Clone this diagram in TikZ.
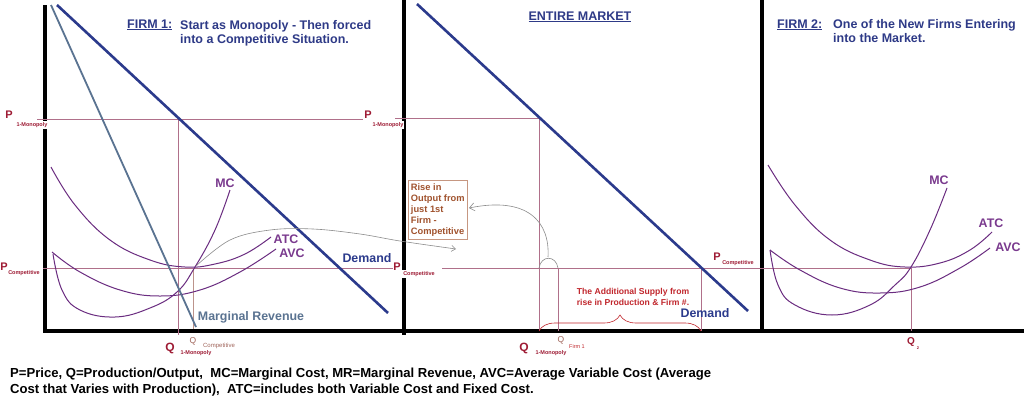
\documentclass[tikz,border=0pt]{standalone}
\usepackage{fontspec}
\setmainfont{Liberation Sans}
\usetikzlibrary{decorations.pathreplacing,arrows.meta}
\definecolor{navy}{HTML}{2B3A8C}
\definecolor{titleblue}{HTML}{2E3A87}
\definecolor{plum}{HTML}{6A2C80}
\definecolor{plumtxt}{HTML}{7A3A8E}
\definecolor{mrgray}{HTML}{5A7391}
\definecolor{dred}{HTML}{9E1B34}
\definecolor{pline}{HTML}{B0708A}
\definecolor{boxbrown}{HTML}{A0522D}
\definecolor{qbrown}{HTML}{A0645A}
\definecolor{supred}{HTML}{C1272D}
\definecolor{arrgray}{HTML}{8C8C8C}
\tikzset{
  axisline/.style={line width=3.5pt, black},
  dem/.style={navy, line width=2.6pt},
  mrline/.style={mrgray, line width=1.8pt},
  cost/.style={plum, line width=1pt},
  guide/.style={pline, line width=0.7pt},
  lbl/.style={font=\bfseries\fontsize{12.4}{14}\selectfont, inner sep=0},
  ttl/.style={font=\bfseries\fontsize{12.5}{14}\selectfont, inner sep=0, text=titleblue, align=left},
  bigP/.style={font=\bfseries\fontsize{11}{13}\selectfont, inner sep=0, text=dred},
  subl/.style={font=\bfseries\fontsize{5.5}{6}\selectfont, inner sep=0, text=dred},
}
\begin{document}
\begin{tikzpicture}[x=1pt,y=-1pt]
\useasboundingbox (0,0) rectangle (1024,399);
\fill[white] (0,0) rectangle (1024,399);

% axes
\coordinate (ax1t) at (45,5); \coordinate (ax1b) at (45,333);
\coordinate (ax2t) at (404,0); \coordinate (ax2b) at (404,335);
\coordinate (ax3t) at (762,0); \coordinate (ax3b) at (762,333);
\coordinate (hxl) at (43,331); \coordinate (hxr) at (1024,331);
\draw[axisline] (ax1t) -- (ax1b);
\draw[axisline] (ax2t) -- (ax2b);
\draw[axisline] (ax3t) -- (ax3b);
\draw[axisline] (hxl) -- (hxr);

% guide lines
\coordinate (pm1a) at (37,119); \coordinate (pm1b) at (363,119);
\coordinate (pm2a) at (395,118); \coordinate (pm2b) at (539,118);
\coordinate (pc1a) at (43,268); \coordinate (pc1b) at (393,268);
\coordinate (pc2a) at (442,268); \coordinate (pc2b) at (911,268);
\draw[guide] (pm1a) -- (pm1b);
\draw[guide] (pm2a) -- (pm2b);
\draw[guide] (pc1a) -- (pc1b);
\draw[guide] (pc2a) -- (pc2b);
\coordinate (qm1t) at (178,119); \coordinate (qm1b) at (178,335);
\coordinate (qc1t) at (193,268); \coordinate (qc1b) at (193,329);
\coordinate (qm2b) at (539,331);
\coordinate (qf1t) at (558,268); \coordinate (qf1b) at (558,331);
\coordinate (qdt) at (701,268); \coordinate (qdb) at (701,331);
\coordinate (q2t) at (911,268); \coordinate (q2b) at (911,331);
\draw[guide] (qm1t) -- (qm1b);
\draw[qbrown!70, line width=0.6pt] (qc1t) -- (qc1b);
\draw[guide] (pm2b) -- (qm2b);
\draw[guide] (qf1t) -- (qf1b);
\draw[guide] (qdt) -- (qdb);
\draw[guide] (q2t) -- (q2b);

% Panel 1 curves
\draw[cost] plot[smooth, tension=0.7] coordinates {(51,167) (75,205) (110,240) (150,260) (185,267) (215,264) (245,254) (271,237)};
\draw[cost] plot[smooth, tension=0.7] coordinates {(52,252) (80,272) (120,290) (160,296) (200,290) (240,272) (276,249)};
\draw[cost] plot[smooth, tension=0.7] coordinates {(53,254) (62,290) (80,310) (115,317) (150,308) (177,292) (195,267) (215,230) (230,190)};
\coordinate (mr1a) at (51,5); \coordinate (mr1b) at (196,327);
\draw[mrline] (mr1a) -- (mr1b);
\coordinate (d1a) at (57,5); \coordinate (d1b) at (388,313);
\draw[dem] (d1a) -- (d1b);

% Panel 2 demand
\coordinate (d2a) at (417,4); \coordinate (d2b) at (748,311);
\draw[dem] (d2a) -- (d2b);

% Panel 3 curves
\draw[cost] plot[smooth, tension=0.7] coordinates {(768,165) (795,205) (830,240) (870,260) (905,267) (940,263) (970,250) (992,232)};
\draw[cost] plot[smooth, tension=0.7] coordinates {(770,250) (800,270) (840,288) (880,293) (920,287) (960,268) (990,248)};
\draw[cost] plot[smooth, tension=0.7] coordinates {(770,250) (778,285) (795,305) (832,315) (870,305) (895,285) (911,267) (930,230) (947,188)};

% box and arrows
\node[draw=boxbrown!60, line width=0.6pt, text=boxbrown, font=\bfseries\fontsize{9.3}{11}\selectfont, align=left, anchor=north west, inner xsep=1.5pt, inner ysep=2pt, minimum width=59pt, minimum height=59pt] (rise) at (408,180) {Rise in\\Output from\\just 1st\\Firm -\\Competitive};
\draw[arrgray, line width=0.6pt, -{Straight Barb[length=4pt,width=6pt]}] plot[smooth, tension=0.6] coordinates {(196,266) (230,240) (270,230) (313,229) (360,234) (400,241) (456,249)};
\coordinate (bumpL) at (539,268); \coordinate (bumpR) at (558,268); \coordinate (bumpT) at (548,257);
\draw[arrgray, line width=0.6pt] (bumpL) .. controls (541,255) and (556,255) .. (bumpR);
\coordinate (risein) at (469,208);
\draw[arrgray, line width=0.6pt, -{Straight Barb[length=5pt,width=8pt]}] (bumpT) .. controls (550,222) and (528,196) .. (risein);

% brace
\draw[supred, line width=0.6pt, decorate, decoration={brace, amplitude=16pt}] (qm2b) -- (qdb);
\node[font=\bfseries\fontsize{8.6}{10.5}\selectfont, text=supred, align=center, inner sep=0] (addsup) at (633,297) {The Additional Supply from\\rise in Production \& Firm \#.};

% titles
\node[ttl, anchor=base west] (f1) at (127,28) {\underline{FIRM 1:}};
\node[ttl, anchor=base west] (f1a) at (180,29) {Start as Monopoly - Then forced};
\node[ttl, anchor=base west] (f1b) at (180,43) {into a Competitive Situation.};
\node[ttl, anchor=base] (em) at (580,20) {\underline{ENTIRE MARKET}};
\node[ttl, anchor=base west] (f2) at (777,28) {\underline{FIRM 2:}};
\node[ttl, anchor=base west] (f2a) at (833,28) {One of the New Firms Entering};
\node[ttl, anchor=base west] (f2b) at (833,42) {into the Market.};

% curve labels
\node[lbl, text=plumtxt] (mc1) at (225,183) {MC};
\node[lbl, text=plumtxt] (atc1) at (286,239) {ATC};
\node[lbl, text=plumtxt] (avc1) at (292,253) {AVC};
\node[lbl, text=navy] (dl1) at (367,258) {Demand};
\node[lbl, text=mrgray] (mrl) at (251,317) {Marginal Revenue};
\node[lbl, text=navy] (dl2) at (705,313) {Demand};
\node[lbl, text=plumtxt] (mc2) at (939,180) {MC};
\node[lbl, text=plumtxt] (atc2) at (991,223) {ATC};
\node[lbl, text=plumtxt] (avc2) at (1008,247) {AVC};

% P labels
\node[bigP] (p1m) at (9,115) {P};
\node[subl, fill=white, inner sep=1pt] (p1ms) at (32,125) {1-Monopoly};
\node[bigP] (p2m) at (368,115) {P};
\node[subl, fill=white, inner sep=1pt] (p2ms) at (388,125) {1-Monopoly};
\node[bigP] (p1c) at (4,267) {P};
\node[subl] (p1cs) at (24,273) {Competitive};
\node[bigP, fill=white, inner sep=0.5pt] (p2c) at (397,267) {P};
\node[subl, fill=white, inner sep=1pt] (p2cs) at (419,274) {Competitive};
\node[bigP] (p3c) at (717,257) {P};
\node[subl] (p3cs) at (738,263) {Competitive};

% Q labels
\node[bigP, font=\bfseries\fontsize{12}{13}\selectfont] (q1m) at (170,348) {Q};
\node[subl] (q1ms) at (196,353) {1-Monopoly};
\node[font=\fontsize{8.5}{9}\selectfont, text=qbrown, inner sep=0] (q1c) at (193,341) {Q};
\node[font=\fontsize{6}{7}\selectfont, text=qbrown, inner sep=0] (q1cs) at (219,346) {Competitive};
\node[bigP, font=\bfseries\fontsize{12}{13}\selectfont] (q2m) at (524,348) {Q};
\node[subl] (q2ms) at (551,353) {1-Monopoly};
\node[font=\fontsize{8.5}{9}\selectfont, text=qbrown, inner sep=0] (qf1) at (561,340) {Q};
\node[font=\fontsize{5.5}{6}\selectfont, text=supred, inner sep=0] (qf1s) at (577,347) {Firm 1};
\node[bigP, font=\bfseries\fontsize{10}{11}\selectfont] (q2) at (911,342) {Q};
\node[subl, font=\bfseries\fontsize{4}{5}\selectfont] (q2s) at (918,348) {2};

% bottom legend
\node[font=\bfseries\fontsize{13.1}{16}\selectfont, anchor=base west, inner sep=0] (leg1) at (10,377) {P=Price, Q=Production/Output,\ \ MC=Marginal Cost, MR=Marginal Revenue, AVC=Average Variable Cost (Average};
\node[font=\bfseries\fontsize{13.1}{16}\selectfont, anchor=base west, inner sep=0] (leg2) at (10,393) {Cost that Varies with Production),\ \ ATC=includes both Variable Cost and Fixed Cost.};
\end{tikzpicture}
\end{document}
